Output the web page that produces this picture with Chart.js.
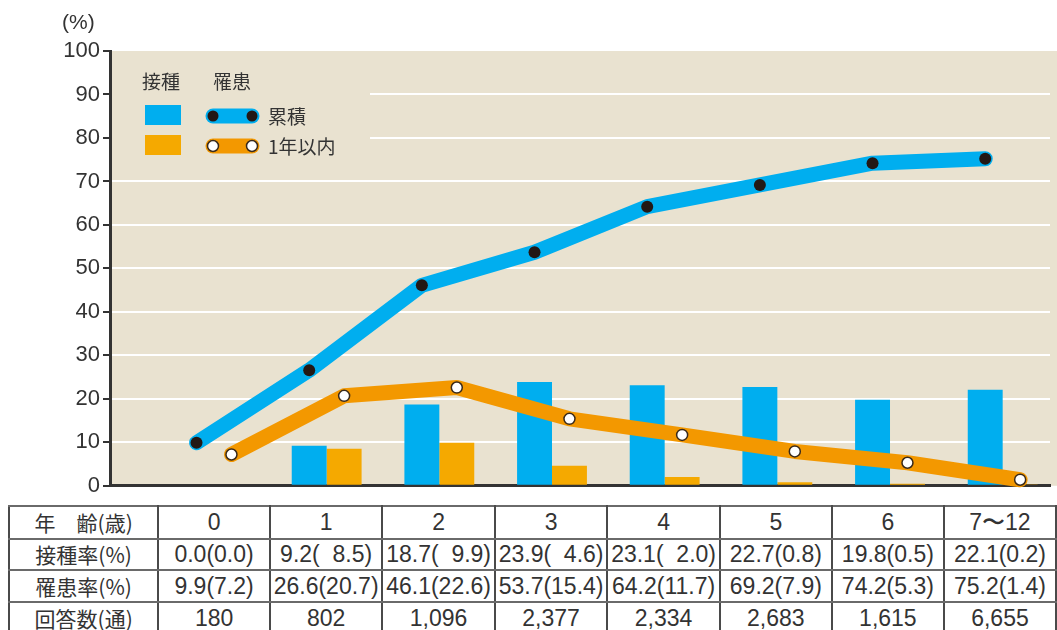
<!DOCTYPE html>
<html><head><meta charset="utf-8">
<script src="https://cdn.jsdelivr.net/npm/chart.js@4"></script>
<style>
html,body{margin:0;padding:0;background:#fff;}
#wrap{position:relative;width:1057px;height:630px;overflow:hidden;}
#cbox{position:absolute;left:0;top:0;width:1057px;height:502px;}
#tbl{position:absolute;left:8px;top:505px;border-collapse:collapse;table-layout:fixed;color:#333;}
#tbl td{border-left:2px solid #4a4a4a;border-right:2px solid #4a4a4a;border-top:2px solid #6a6a6a;border-bottom:2px solid #6a6a6a;text-align:center;padding:0;white-space:nowrap;overflow:hidden;font-family:"Liberation Sans Narrow","Liberation Sans",sans-serif;font-size:23px;line-height:1;}
#tbl td.h{font-family:"Noto Sans CJK JP",sans-serif;font-size:21px;}
</style></head>
<body>
<div id="wrap">
  <div id="cbox"><canvas id="c"></canvas></div>
  <table id="tbl"><colgroup id="cols"></colgroup><tbody id="tb"></tbody></table>
</div>
<script>
// ---- data ----
const categories = ['0', '1', '2', '3', '4', '5', '6', '7〜12'];
const vaccRate   = [0.0, 9.2, 18.7, 23.9, 23.1, 22.7, 19.8, 22.1];   // 接種率
const vaccRate1y = [0.0, 8.5, 9.9, 4.6, 2.0, 0.8, 0.5, 0.2];         // 接種率 (1年以内)
const infRate    = [9.9, 26.6, 46.1, 53.7, 64.2, 69.2, 74.2, 75.2];  // 罹患率 累積
const infRate1y  = [7.2, 20.7, 22.6, 15.4, 11.7, 7.9, 5.3, 1.4];     // 罹患率 1年以内
const responses  = ['180', '802', '1,096', '2,377', '2,334', '2,683', '1,615', '6,655'];
const yTicks     = [0, 10, 20, 30, 40, 50, 60, 70, 80, 90, 100];
const rowLabels  = ['年\u2003齢(歳)', '接種率(%)', '罹患率(%)', '回答数(通)'];

// ---- styles ----
const PLOT_BG = '#E9E2D0';
const BLUE = '#00AEEF';
const ORANGE_BAR = '#F5A900';
const ORANGE_LINE = '#F39800';
const TEXT = '#333';

const toXY = vals => vals.map((v, i) => ({ x: i, y: v }));
const fmt = (v, p, pad) => {
  const a = v.toFixed(1), b = p.toFixed(1);
  const sp = (pad && b.length < 4) ? '\u00a0\u00a0' : '';
  return a + '(' + sp + b + ')';
};

// ---- table ----
(function buildTable() {
  const cols = document.getElementById('cols');
  const widths = [151].concat(categories.map(() => 112.7));
  widths.forEach(w => { const c = document.createElement('col'); c.style.width = w + 'px'; cols.appendChild(c); });
  const tb = document.getElementById('tb');
  const heights = [33, 31, 32, 33];
  const rows = [
    categories,
    categories.map((_, i) => fmt(vaccRate[i], vaccRate1y[i], i >= 1 && i <= 4)),
    categories.map((_, i) => fmt(infRate[i], infRate1y[i], false)),
    responses
  ];
  rows.forEach((r, ri) => {
    const tr = document.createElement('tr');
    tr.style.height = heights[ri] + 'px';
    const th = document.createElement('td'); th.className = 'h'; th.textContent = rowLabels[ri]; tr.appendChild(th);
    r.forEach(t => { const td = document.createElement('td'); td.textContent = t; tr.appendChild(td); });
    tb.appendChild(tr);
  });
})();

// ---- plugins ----
const bgPlugin = {
  id: 'bg',
  beforeDraw(chart) {
    const { ctx, chartArea: a } = chart;
    ctx.save(); ctx.fillStyle = PLOT_BG;
    ctx.fillRect(a.left, a.top, chart.width - a.left, a.bottom - a.top);
    ctx.restore();
  }
};
const alignPlugin = {
  id: 'align',
  afterDatasetsUpdate(chart) {
    chart.data.datasets.forEach((ds, i) => {
      if (ds.alignTo === undefined) return;
      const meta = chart.getDatasetMeta(i), bm = chart.getDatasetMeta(ds.alignTo);
      meta.data.forEach((pt, j) => { if (bm.data[j]) pt.x = bm.data[j].x; });
    });
  }
};
const legendPlugin = {
  id: 'customLegend',
  beforeDatasetsDraw(chart) {
    const { ctx, chartArea: a } = chart;
    ctx.save();
    ctx.fillStyle = PLOT_BG;
    ctx.fillRect(a.left + 2, 62, 370 - a.left - 2, 100);
    ctx.font = '19px "Noto Sans CJK JP"';
    ctx.fillStyle = TEXT; ctx.textBaseline = 'middle'; ctx.textAlign = 'left';
    ctx.fillText('接種', 142, 82);
    ctx.fillText('罹患', 213, 82);
    ctx.fillStyle = BLUE; ctx.fillRect(145, 105, 36, 20);
    ctx.fillStyle = ORANGE_BAR; ctx.fillRect(145, 135, 36, 20);
    const sample = (y, col, fill, stroke) => {
      ctx.strokeStyle = col; ctx.lineWidth = 15; ctx.lineCap = 'round';
      ctx.beginPath(); ctx.moveTo(213, y); ctx.lineTo(252, y); ctx.stroke();
      [213, 252].forEach(x => {
        ctx.beginPath(); ctx.arc(x, y, 5.5, 0, Math.PI * 2);
        ctx.fillStyle = fill; ctx.fill();
        if (stroke) { ctx.lineWidth = 1.5; ctx.strokeStyle = stroke; ctx.stroke(); }
      });
    };
    sample(116, BLUE, '#231815', null);
    sample(146, ORANGE_LINE, '#fff', '#3a2a1a');
    ctx.fillStyle = TEXT;
    ctx.fillText('累積', 268, 117);
    ctx.fillText('1年以内', 268, 147);
    ctx.restore();
  },
  afterDraw(chart) {
    const { ctx } = chart;
    ctx.save();
    ctx.font = '21px "Liberation Sans Narrow","Liberation Sans"';
    ctx.fillStyle = TEXT; ctx.textBaseline = 'middle'; ctx.textAlign = 'left';
    ctx.fillText('(%)', 62, 23);
    ctx.restore();
  }
};

// ---- chart ----
new Chart(document.getElementById('c'), {
  type: 'bar',
  data: {
    datasets: [
      { label: '接種', data: toXY(vaccRate), backgroundColor: BLUE, order: 2, borderWidth: 0 },
      { label: '接種(1年以内)', data: toXY(vaccRate1y), backgroundColor: ORANGE_BAR, order: 2, borderWidth: 0 },
      { type: 'line', label: '累積', data: toXY(infRate), alignTo: 0, order: 0,
        borderColor: BLUE, borderWidth: 15, borderCapStyle: 'round', borderJoinStyle: 'round', tension: 0,
        pointRadius: 6, pointBackgroundColor: '#231815', pointBorderWidth: 0, clip: false },
      { type: 'line', label: '1年以内', data: toXY(infRate1y), alignTo: 1, order: 1,
        borderColor: ORANGE_LINE, borderWidth: 15, borderCapStyle: 'round', borderJoinStyle: 'round', tension: 0,
        pointRadius: 5.5, pointBackgroundColor: '#fff', pointBorderColor: '#3a2a1a', pointBorderWidth: 1.5, clip: false }
    ]
  },
  options: {
    responsive: true, maintainAspectRatio: false, animation: false, events: [],
    layout: { padding: { top: 51, left: 0, right: 0, bottom: 7 } },
    datasets: { bar: { categoryPercentage: 0.62, barPercentage: 1.0, grouped: true } },
    plugins: { legend: { display: false }, tooltip: { enabled: false } },
    scales: {
      x: {
        type: 'linear', min: -0.923, max: 7.42, offset: false,
        afterBuildTicks(scale) { scale.ticks = categories.map((c, i) => ({ value: i })); },
        ticks: { display: false }, grid: { display: false, drawTicks: false },
        border: { display: true, color: '#333', width: 3 }
      },
      y: {
        min: 0, max: 100,
        afterFit(scale) { scale.width = 110; },
        afterBuildTicks(scale) { scale.ticks = yTicks.map(v => ({ value: v })); },
        ticks: { color: TEXT, padding: 3, font: { family: '"Liberation Sans Narrow","Liberation Sans"', size: 22 } },
        grid: {
          color: ctx => (ctx.tick && ctx.tick.value === 100) ? 'rgba(0,0,0,0)' : '#fff',
          lineWidth: 2, tickColor: '#333', tickWidth: 2, tickLength: 7
        },
        border: { display: true, color: '#333', width: 3 }
      }
    }
  },
  plugins: [bgPlugin, alignPlugin, legendPlugin]
});
</script>
</body></html>
